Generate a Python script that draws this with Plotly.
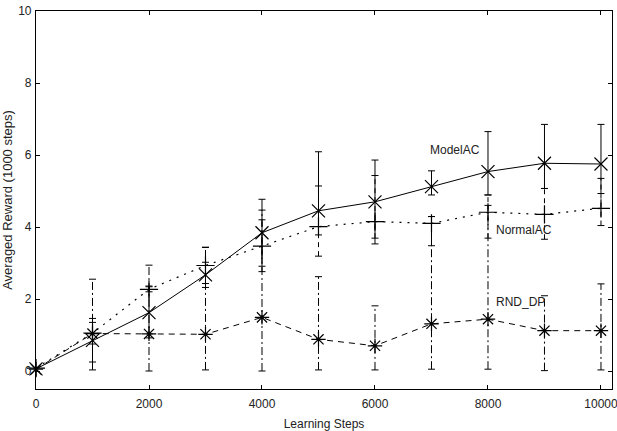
import plotly.graph_objects as go

steps = [0, 1000, 2000, 3000, 4000, 5000, 6000, 7000, 8000, 9000, 10000]

model_ac = [0.06, 0.85, 1.62, 2.67, 3.84, 4.45, 4.70, 5.12, 5.54, 5.77, 5.75]
model_lo = [0.06, 0.25, 0.92, 2.32, 2.91, 3.78, 3.53, 4.89, 4.89, 5.07, 4.93]
model_hi = [0.06, 1.46, 2.34, 3.02, 4.77, 6.09, 5.86, 5.56, 6.65, 6.85, 6.85]

normal_ac = [0.08, 1.05, 2.27, 2.93, 3.47, 4.01, 4.15, 4.10, 4.41, 4.35, 4.52]
normal_lo = [0.08, 0.75, 2.20, 2.43, 2.76, 3.19, 3.69, 3.48, 3.69, 3.66, 4.04]
normal_hi = [0.08, 1.35, 2.36, 3.43, 4.20, 5.14, 5.43, 4.29, 4.89, 5.07, 5.35]

rnd_dp = [0.05, 1.04, 1.03, 1.02, 1.49, 0.88, 0.70, 1.31, 1.44, 1.12, 1.12]
rnd_lo = [0.05, 0.03, 0.00, 0.03, 0.00, 0.03, 0.03, 0.05, 0.05, 0.01, 0.03]
rnd_hi = [0.05, 2.55, 2.94, 3.44, 4.47, 2.62, 1.81, 4.29, 4.60, 2.09, 2.42]

x_ticks = [0, 2000, 4000, 6000, 8000, 10000]
x_tick_labels = ["0", "2000", "4000", "6000", "8000", "10000"]
y_ticks = [0, 2, 4, 6, 8, 10]
y_tick_labels = ["0", "2", "4", "6", "8", "10"]

series_names = ["ModelAC", "NormalAC", "RND_DP"]
label_x = [7894, 8106, 8106]
label_y = [6.14, 3.92, 1.92]

FONT = "Liberation Sans, Arial, Helvetica, sans-serif"
INK = "#000000"
TXT = "#222222"

fig = go.Figure()

def add_bars(xs, lo, hi, dash):
    bx, by, cx, cy = [], [], [], []
    for x, l, h in zip(xs, lo, hi):
        if h - l <= 0:
            continue
        bx += [x, x, None]
        by += [l, h, None]
        cx += [x, x]
        cy += [l, h]
    fig.add_trace(go.Scatter(x=bx, y=by, mode="lines",
                             line=dict(color=INK, width=1, dash=dash),
                             hoverinfo="skip", showlegend=False, cliponaxis=False))
    fig.add_trace(go.Scatter(x=cx, y=cy, mode="markers",
                             marker=dict(symbol="line-ew", size=5,
                                         line=dict(color=INK, width=1)),
                             hoverinfo="skip", showlegend=False, cliponaxis=False))

add_bars(steps, rnd_lo, rnd_hi, "8px,3px,2px,3px")
add_bars(steps, normal_lo, normal_hi, "5px,4px")
add_bars(steps, model_lo, model_hi, "solid")

fig.add_trace(go.Scatter(x=steps, y=rnd_dp, mode="lines+markers", name=series_names[2],
                         line=dict(color=INK, width=1, dash="6px,5px"),
                         marker=dict(symbol="asterisk-open", size=12,
                                     line=dict(color=INK, width=1.2)),
                         cliponaxis=False))
fig.add_trace(go.Scatter(x=steps, y=normal_ac, mode="lines+markers", name=series_names[1],
                         line=dict(color=INK, width=1.2, dash="2px,6px"),
                         marker=dict(symbol="cross-thin-open", size=13,
                                     line=dict(color=INK, width=1.2)),
                         cliponaxis=False))
fig.add_trace(go.Scatter(x=steps, y=model_ac, mode="lines+markers", name=series_names[0],
                         line=dict(color=INK, width=1, dash="solid"),
                         marker=dict(symbol="x-thin-open", size=13,
                                     line=dict(color=INK, width=1.2)),
                         cliponaxis=False))

anchors = ["right", "left", "left"]
for name, lx, ly, anc in zip(series_names, label_x, label_y, anchors):
    fig.add_annotation(x=lx, y=ly, text=name, showarrow=False,
                       xanchor=anc, yanchor="middle",
                       font=dict(family=FONT, size=12, color=TXT))

axis_common = dict(showline=True, linecolor=INK, linewidth=1.2, mirror="ticks",
                   ticks="inside", ticklen=4, tickcolor=INK, tickwidth=1,
                   showgrid=False, zeroline=False, automargin=False,
                   ticklabeloverflow="allow",
                   tickfont=dict(family=FONT, size=12, color=TXT))

fig.update_layout(
    width=617, height=431,
    margin=dict(l=36, r=5, t=11, b=42),
    paper_bgcolor="white", plot_bgcolor="white",
    showlegend=False,
    xaxis=dict(range=[0, 10195], tickmode="array", tickvals=x_ticks, ticktext=x_tick_labels,
               ticklabelstandoff=3,
               title=dict(text="Learning Steps", standoff=10,
                          font=dict(family=FONT, size=12, color=TXT)),
               **axis_common),
    yaxis=dict(range=[-0.5, 10], tickmode="array", tickvals=y_ticks, ticktext=y_tick_labels,
               ticklabelstandoff=1,
               title=dict(text="Averaged Reward (1000 steps)", standoff=4,
                          font=dict(family=FONT, size=13, color=TXT)),
               **axis_common),
)

fig.write_html("out.html", config={"displayModeBar": False},
               post_script="document.body.style.margin='0';")
